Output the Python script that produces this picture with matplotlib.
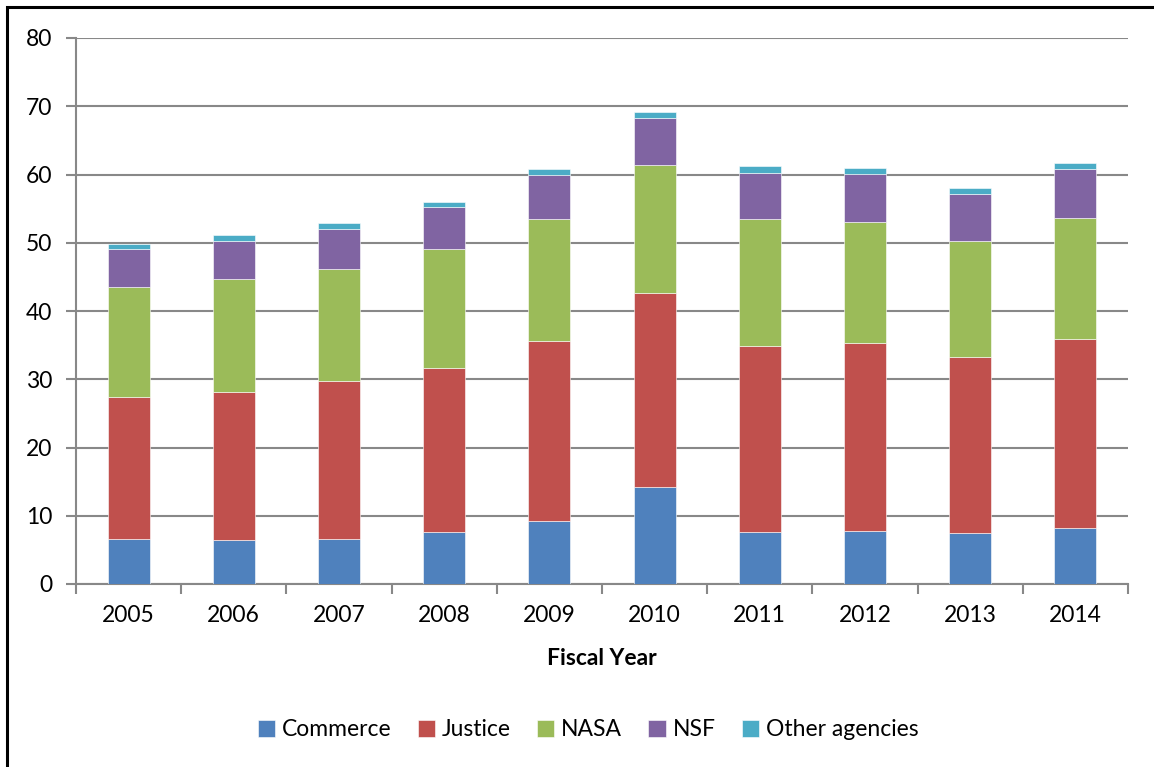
import matplotlib
matplotlib.use("Agg")
import matplotlib.pyplot as plt
from matplotlib.patches import Rectangle
import numpy as np

years = ["2005", "2006", "2007", "2008", "2009", "2010", "2011", "2012", "2013", "2014"]
commerce = [6.55, 6.40, 6.59, 7.67, 9.28, 14.26, 7.57, 7.77, 7.47, 8.16]
justice = [20.90, 21.73, 23.20, 23.93, 26.37, 28.33, 27.35, 27.49, 25.84, 27.74]
nasa = [16.11, 16.61, 16.36, 17.48, 17.83, 18.75, 18.56, 17.83, 16.95, 17.73]
nsf = [5.48, 5.56, 5.85, 6.11, 6.40, 6.89, 6.79, 6.98, 6.93, 7.13]
other = [0.82, 0.79, 0.85, 0.78, 0.92, 0.97, 0.93, 0.88, 0.81, 0.88]

series = [("Commerce", commerce, "#4F81BD"),
          ("Justice", justice, "#C0504D"),
          ("NASA", nasa, "#9BBB59"),
          ("NSF", nsf, "#8064A2"),
          ("Other agencies", other, "#4BACC6")]

plt.rcParams['font.family'] = ['Lato', 'DejaVu Sans']
FS = 16.5

fig = plt.figure(figsize=(11.54, 7.67), dpi=100)
ax = fig.add_axes([76/1154, 1-584/767, (1128-76)/1154, (584-38)/767])

x = np.arange(len(years))
bottom = np.zeros(len(years))
for name, vals, col in series:
    ax.bar(x, vals, bottom=bottom, width=0.40, color=col, label=name,
           edgecolor='white', linewidth=0.4, zorder=3)
    bottom += np.array(vals)

ax.set_xlim(-0.5, len(years) - 0.5)
ax.set_ylim(0, 80)
ax.set_yticks(np.arange(0, 81, 10))
ax.yaxis.grid(True, color='#888888', linewidth=1.5, zorder=0)
ax.set_axisbelow(True)

ax.set_xticks(x)
ax.set_xticklabels(years, fontsize=FS)
ax.set_xticks(np.arange(-0.5, len(years), 1), minor=True)
ax.tick_params(axis='x', which='major', length=0, pad=15)
ax.tick_params(axis='x', which='minor', length=7, width=1.5, color='#888888', direction='out')
ax.tick_params(axis='y', length=7, width=1.5, color='#888888', direction='out', labelsize=FS, pad=10)

for s in ['top', 'right']:
    ax.spines[s].set_visible(False)
for s in ['left', 'bottom']:
    ax.spines[s].set_color('#888888')
    ax.spines[s].set_linewidth(1.5)

ax.set_xlabel("Fiscal Year", fontsize=FS, fontweight='bold', labelpad=16)

leg = fig.legend(loc='center', bbox_to_anchor=(588/1154, 1-730/767), ncol=5,
                 frameon=False, fontsize=FS, handlelength=0.75, handleheight=0.75,
                 handletextpad=0.3, columnspacing=1.15)

fig.patches.append(Rectangle((7/1154, -0.5), 2.0, 1.5 - 7/767,
                             transform=fig.transFigure, fill=False,
                             edgecolor='black', linewidth=2.2))

fig.savefig("out.png", dpi=100, facecolor='white')
